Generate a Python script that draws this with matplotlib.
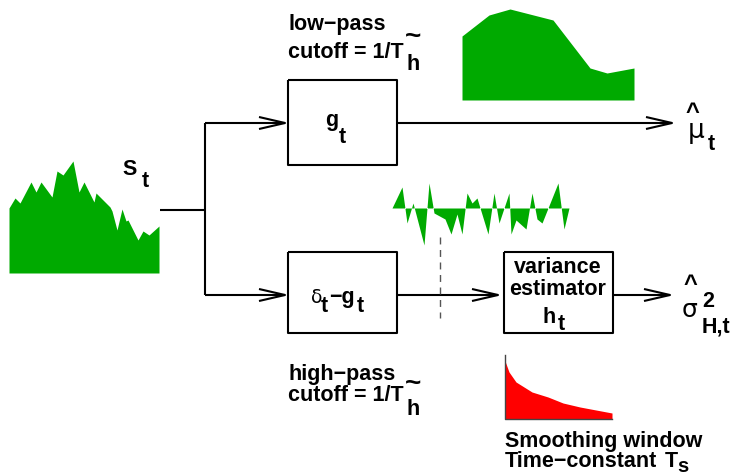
import matplotlib
matplotlib.use("Agg")
import matplotlib.pyplot as plt

# ---- data (pixel coordinates of the schematic shapes) ----
signal_x = [9, 15, 20, 31, 36, 41, 52, 57, 63, 73, 79, 84, 94, 96, 110, 112, 117, 122, 126, 128, 138, 143, 149, 159]
signal_y = [208, 198, 203, 182, 192, 182, 197, 171, 175, 161, 192, 182, 202, 193, 207, 211, 230, 209, 221, 220, 240, 231, 235, 226]
signal_base = 273

lowpass_x = [462, 489, 510, 553, 590, 607, 634]
lowpass_y = [36, 15, 9, 20, 68, 73, 68]
lowpass_base = 100

noise_x = [392, 402, 407, 413, 424, 429, 434, 445, 451, 457, 462, 467, 472, 477, 488, 494, 499,
           509, 511, 516, 526, 532, 537, 542, 548, 558, 564, 569]
noise_y = [208, 187, 223, 203, 245, 183, 213, 219, 234, 214, 234, 193, 203, 198, 234, 193, 223,
           193, 234, 220, 229, 193, 219, 223, 208, 183, 229, 208]
noise_base = 208

kernel_x = [505, 509, 516, 524, 532, 548, 563, 580, 596, 612]
kernel_y = [361, 372, 382, 387, 392, 397, 403, 407, 410, 413]
kernel_base = 419

GREEN = "#00aa00"
RED = "#ff0000"
FONT = "Liberation Sans"
FS = 15.5

fig = plt.figure(figsize=(7.4, 4.75), dpi=100)
ax = fig.add_axes([0, 0, 1, 1])
ax.set_xlim(0, 740)
ax.set_ylim(475, 0)
ax.axis("off")

LW = 1.5

def line(xs, ys, **kw):
    ax.plot(xs, ys, color="black", lw=kw.pop("lw", LW), solid_capstyle="butt", **kw)

def arrow(x0, x1, y):
    line([x0, x1], [y, y])
    L, W = 26, 6
    line([x1 - L, x1, x1 - L], [y - W, y, y + W])

def box(x0, x1, y0, y1):
    line([x0, x1, x1, x0, x0], [y0, y0, y1, y1, y0])

def txt(x, y, s, size=FS, **kw):
    return ax.text(x, y, s, fontsize=size, fontweight="bold", family=FONT,
                   va=kw.pop("va", "baseline"), ha=kw.pop("ha", "left"), **kw)

def sym(x, y, s, size):
    ax.text(x, y, s, fontsize=size, family="DejaVu Sans", va="baseline", ha="left")

# filled shapes
ax.fill_between(signal_x, signal_y, signal_base, color=GREEN, lw=0)
ax.fill_between(lowpass_x, lowpass_y, lowpass_base, color=GREEN, lw=0)
ax.fill_between(noise_x, noise_y, noise_base, color=GREEN, lw=0)
ax.fill_between(kernel_x, kernel_y, kernel_base, color=RED, lw=0)
ax.plot([505, 505, 612], [355, 419, 419], color="#444444", lw=1.0)

# flow lines
line([160, 205], [210, 210])
line([205, 205], [123, 295])
arrow(205, 285, 123)
arrow(205, 285, 295)
arrow(397, 672, 123)
arrow(397, 498, 295)
arrow(613, 670, 295)
ax.plot([440, 440], [237, 318], color="#555555", lw=1.0, ls=(0, (5, 4)))

# boxes
box(288, 397, 80, 165)
box(288, 397, 252, 333)
box(504, 613, 252, 333)

# texts
txt(122, 175, "S")
txt(142, 187, "t")

txt(288, 30, "low\u2212pass")
txt(288, 58, "cutoff = 1/T")
txt(405, 44, "~", size=20)
txt(407, 70, "h")

txt(325, 126, "g")
txt(339, 143, "t")

sym(311, 303, "\u03b4", 13.5)
txt(321, 312, "t")
txt(329, 303, "\u2212g")
txt(357, 312, "t")

txt(558, 273, "variance", ha="center")
txt(558, 295, "estimator", ha="center")
txt(543, 323, "h")
txt(558, 330, "t")

txt(685, 119, "^", size=17)
sym(688, 138, "\u03bc", 19)
txt(708, 150, "t")

txt(683, 291, "^", size=17)
sym(682, 317, "\u03c3", 18)
txt(702, 307, "2")
txt(702, 332, "H,t")

txt(288, 380, "high\u2212pass")
txt(288, 401, "cutoff = 1/T")
txt(405, 391, "~", size=20)
txt(407, 415, "h")

txt(505, 447, "Smoothing window")
txt(505, 467, "Time\u2212constant")
tT = txt(665, 467, "T")
fig.canvas.draw()
bb = tT.get_window_extent()
x_end = ax.transData.inverted().transform((bb.x1, bb.y0))[0]
txt(x_end - 1, 472, "s", size=14.5)

fig.savefig("out.png", dpi=100)
